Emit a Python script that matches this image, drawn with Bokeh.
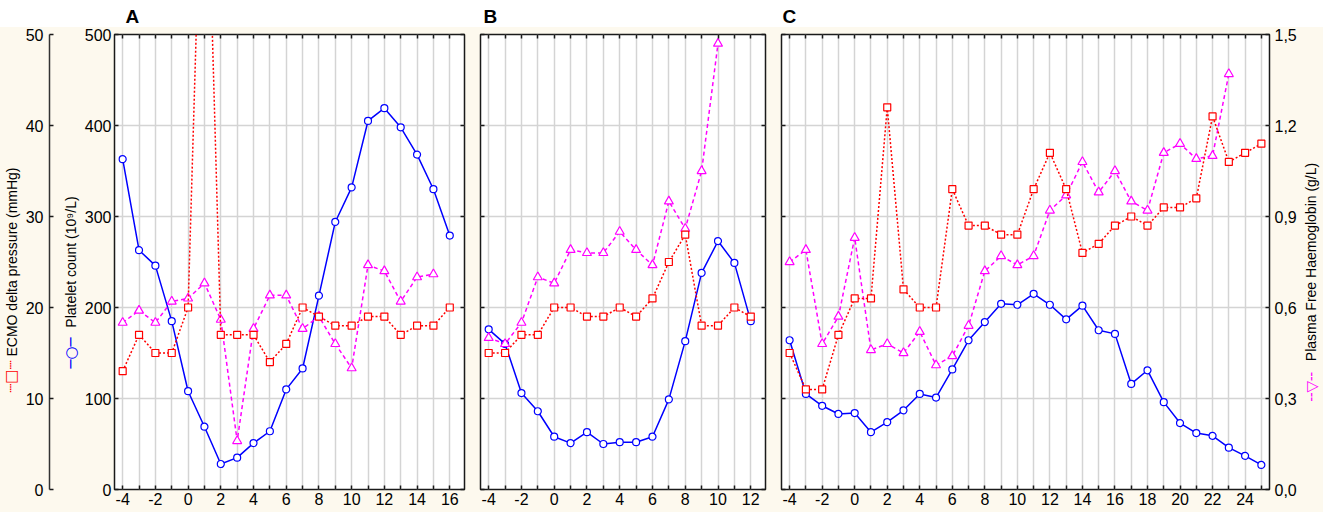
import math
from bokeh.plotting import figure
from bokeh.models import Range1d, LinearAxis, FixedTicker, Label, CustomJSTickFormatter
from bokeh.layouts import row
from bokeh.embed import file_html
from bokeh.resources import INLINE

# ---------------- data ----------------
days_a = list(range(-4, 17))
platelet_a = [363, 263, 246, 185, 108, 69, 28, 35, 51, 64, 110, 133, 213, 294, 332, 405, 419, 398, 368, 330, 279]
ecmo_a = [13, 17, 15, 15, 20, 81, 17, 17, 17, 14, 16, 20, 19, 18, 18, 19, 19, 17, 18, 18, 20]
pfh_days_a = list(range(-4, 16))
pfh_a = [0.55, 0.59, 0.55, 0.62, 0.63, 0.68, 0.56, 0.16, 0.53, 0.64, 0.64, 0.53, 0.57, 0.48, 0.40,
         0.74, 0.72, 0.62, 0.70, 0.71]

days_b = list(range(-4, 13))
platelet_b = [176, 160, 106, 86, 58, 51, 63, 50, 52, 52, 58, 99, 163, 238, 273, 249, 185]
ecmo_b = [15, 15, 17, 17, 20, 20, 19, 19, 20, 19, 21, 25, 28, 18, 18, 20, 19]
pfh_days_b = list(range(-4, 11))
pfh_b = [0.50, 0.48, 0.55, 0.70, 0.68, 0.79, 0.78, 0.78, 0.85, 0.79, 0.74, 0.95, 0.86, 1.05, 1.47]

days_c = list(range(-4, 26))
platelet_c = [164, 105, 92, 83, 84, 63, 74, 87, 105, 101,
              132, 164, 184, 204, 203, 215, 203, 187, 202, 175,
              171, 116, 131, 96, 73, 62, 59, 46, 37, 27]
ecmo_c = [15, 11, 11, 17, 21, 21, 42, 22, 20, 20,
          33, 29, 29, 28, 28, 33, 37, 33, 26, 27,
          29, 30, 29, 31, 31, 32, 41, 36, 37, 38]
pfh_days_c = list(range(-4, 24))
pfh_c = [0.75, 0.79, 0.48, 0.57, 0.83, 0.46, 0.48, 0.45, 0.52, 0.41,
         0.44, 0.54, 0.72, 0.77, 0.74, 0.77, 0.92, 0.97, 1.08, 0.98,
         1.05, 0.95, 0.92, 1.11, 1.14, 1.09, 1.10, 1.37]

platelet_ticks = [0, 100, 200, 300, 400, 500]
ecmo_ticks = [0, 10, 20, 30, 40, 50]
pfh_ticks = [0.0, 0.3, 0.6, 0.9, 1.2, 1.5]

ecmo_title = "ECMO delta pressure (mmHg)"
platelet_title = "Platelet count (10\u2079/L)"
pfh_title = "Plasma Free Haemoglobin (g/L)"

# ---------------- style ----------------
BLUE = "#0000ff"
RED = "#ff0000"
MAG = "#ff00ff"
CREAM = "#fdf9ee"
FRAME = "#1a1a1a"
GRID = "#d4d4d4"
FONT = "Liberation Sans"
TICK_FS = "16px"
TITLE_FS = "14px"
H = 512
TOP = 33
BOTTOM = 23
BG_STYLE = {"background": "linear-gradient(to bottom, #ffffff 0px, #ffffff 27px, %s 27px, %s 100%%)" % (CREAM, CREAM)}

plt_range = Range1d(0, 500)
ecmo_range = Range1d(0, 50)
pfh_range = Range1d(0, 1.5)

pfh_fmt = CustomJSTickFormatter(code="return tick.toFixed(1).replace('.', ',');")
x_fmt = CustomJSTickFormatter(code="return tick.toString();")


def tick_only_axis(ticks):
    # frame tick marks without labels (minor ticks only)
    return LinearAxis(ticker=FixedTicker(ticks=[], minor_ticks=ticks), axis_line_color=None,
                      major_tick_line_color=None, minor_tick_in=4, minor_tick_out=0,
                      minor_tick_line_color=FRAME, minor_tick_line_width=1.5)


def style_axis(ax):
    ax.major_label_text_font = FONT
    ax.major_label_text_font_size = TICK_FS
    ax.major_label_text_color = "black"
    ax.axis_label_text_font = FONT
    ax.axis_label_text_font_size = TITLE_FS
    ax.axis_label_text_font_style = "normal"
    ax.axis_label_text_color = "black"
    ax.major_tick_line_color = FRAME
    ax.major_tick_line_width = 1.5
    ax.minor_tick_line_color = FRAME
    ax.minor_tick_line_width = 1.5


def side_fig(width, xr, yr, mleft=0, mright=0):
    p = figure(width=width, height=H, x_range=Range1d(*xr), y_range=yr,
               output_backend="svg", toolbar_location=None,
               x_axis_location=None, y_axis_location=None,
               min_border_left=mleft, min_border_right=mright, min_border_top=TOP, min_border_bottom=BOTTOM,
               border_fill_color=None, background_fill_color=None, outline_line_color=None)
    p.styles = BG_STYLE
    p.grid.visible = False
    return p


def title_label(x, y, text, color, font, size, yname="default"):
    return Label(x=x, y=y, y_range_name=yname, text=text, angle=math.pi / 2, text_color=color,
                 text_font=font, text_font_size=size, text_align="center", text_baseline="middle")


def panel(days, plt, ecmo, pdays, pfh, xr, width, mleft, mright, letter, letter_off):
    last = int(math.floor(xr[1]))
    evens = [d for d in range(-4, last + 1) if d % 2 == 0]
    odds = [d for d in range(-4, last + 1) if d % 2 != 0]
    p = figure(width=width, height=H, x_range=Range1d(*xr), y_range=plt_range,
               output_backend="svg", toolbar_location=None,
               min_border_left=mleft, min_border_right=mright, min_border_top=TOP, min_border_bottom=BOTTOM,
               border_fill_color=None, background_fill_color="white",
               outline_line_color=FRAME, outline_line_width=1.5)
    p.styles = BG_STYLE
    p.extra_y_ranges = {"ecmo": ecmo_range, "pfh": pfh_range}

    xt = FixedTicker(ticks=evens, minor_ticks=odds)
    p.xgrid.ticker = xt
    p.xgrid.minor_grid_line_color = GRID
    p.xgrid.minor_grid_line_width = 1.5
    p.ygrid.ticker = FixedTicker(ticks=platelet_ticks)
    for g in (p.xgrid, p.ygrid):
        g.grid_line_color = GRID
        g.grid_line_width = 1.5

    xa = p.xaxis[0]
    xa.ticker = xt
    xa.formatter = x_fmt
    style_axis(xa)
    xa.major_tick_in = 4
    xa.major_tick_out = 0
    xa.minor_tick_in = 4
    xa.minor_tick_out = 0
    xa.major_label_standoff = 3
    xa.axis_line_color = None

    ya = p.yaxis[0]
    style_axis(ya)
    ya.axis_line_color = None
    ya.minor_tick_in = 4
    ya.minor_tick_out = 0
    if letter == "A":
        ya.ticker = FixedTicker(ticks=platelet_ticks)
        ya.major_tick_in = 4
        ya.major_tick_out = 0
        ya.major_label_standoff = 3
    else:
        ya.ticker = FixedTicker(ticks=[], minor_ticks=platelet_ticks)

    p.add_layout(tick_only_axis(list(range(-4, last + 1))), "above")
    if letter == "C":
        ra = LinearAxis(y_range_name="pfh", ticker=FixedTicker(ticks=pfh_ticks), formatter=pfh_fmt)
        style_axis(ra)
        ra.major_tick_in = 4
        ra.major_tick_out = 0
        ra.minor_tick_line_color = None
        ra.major_label_standoff = 5
        ra.axis_line_color = None
        p.add_layout(ra, "right")
    else:
        p.add_layout(tick_only_axis(platelet_ticks), "right")

    p.title.text = letter
    p.title.align = "left"
    p.title.offset = letter_off
    p.title.vertical_align = "top"
    p.title.standoff = 11
    p.title.text_font = FONT
    p.title.text_font_size = "19px"
    p.title.text_font_style = "bold"
    p.title.text_color = "black"

    p.line(days, plt, line_color=BLUE, line_width=1.5)
    p.scatter(days, plt, marker="circle", size=7, line_color=BLUE, fill_color="white", line_width=1.2)
    p.line(pdays, pfh, y_range_name="pfh", line_color=MAG, line_width=1.5, line_dash="4 3")
    p.scatter(pdays, pfh, y_range_name="pfh", marker="triangle", size=9, line_color=MAG,
              fill_color="white", line_width=1.2)
    p.line(days, ecmo, y_range_name="ecmo", line_color=RED, line_width=1.5, line_dash="2 2")
    p.scatter(days, ecmo, y_range_name="ecmo", marker="square", size=7, line_color=RED,
              fill_color="white", line_width=1.2)
    return p


# ---------- far left: ECMO title with its key ----------
p_e1 = side_fig(22, (0, 22), ecmo_range)
p_e1.add_layout(title_label(11, 25, ecmo_title, "black", FONT, TITLE_FS))
p_e1.add_layout(title_label(10, 12.4, "\u2508\u25a1\u2508", RED, "DejaVu Sans", "15px"))

# ---------- ECMO axis + platelet title with its key ----------
p_e2 = side_fig(59, (0, 34), plt_range, mleft=25)
p_e2.extra_y_ranges = {"ecmo": ecmo_range}
ea = LinearAxis(y_range_name="ecmo", ticker=FixedTicker(ticks=ecmo_ticks))
style_axis(ea)
ea.major_tick_in = 4
ea.major_tick_out = 0
ea.minor_tick_line_color = None
ea.major_label_standoff = 6
ea.axis_line_color = "#333333"
ea.axis_line_width = 1.5
p_e2.add_layout(ea, "left")
p_e2.add_layout(title_label(23, 250, platelet_title, "black", FONT, TITLE_FS))
p_e2.add_layout(title_label(23, 150, "\u2500\u25cb\u2500", BLUE, "DejaVu Sans", "15px"))

# ---------- panels ----------
pa = panel(days_a, platelet_a, ecmo_a, pfh_days_a, pfh_a, (-4.5, 16.9), 391, 33, 8, "A", 11)
pb = panel(days_b, platelet_b, ecmo_b, pfh_days_b, pfh_b, (-4.5, 12.9), 301, 8, 8, "B", 3)
pc = panel(days_c, platelet_c, ecmo_c, pfh_days_c, pfh_c, (-4.5, 25.5), 526, 8, 28, "C", 1)

# ---------- far right: haemoglobin title with its key ----------
p_r = side_fig(24, (0, 24), pfh_range)
p_r.add_layout(title_label(11, 0.75, pfh_title, "black", FONT, TITLE_FS))
p_r.add_layout(title_label(12, 0.339, "\u254c\u25bd\u254c", MAG, "DejaVu Sans", "15px"))

layout = row(p_e1, p_e2, pa, pb, pc, p_r, spacing=0)
open("out.html", "w").write(file_html(layout, INLINE))
